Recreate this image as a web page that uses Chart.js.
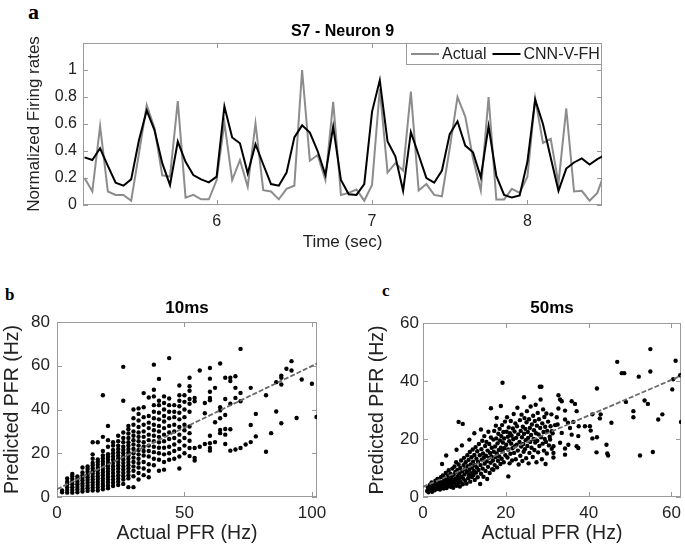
<!DOCTYPE html>
<html>
<head>
<meta charset="utf-8">
<title>Firing rate prediction</title>
<script src="https://cdn.jsdelivr.net/npm/chart.js@4.4.1/dist/chart.umd.min.js"></script>
<style>
  html, body { margin: 0; padding: 0; background: #fff; }
  body { width: 685px; height: 551px; position: relative; overflow: hidden; }
  canvas { position: absolute; }
  .tag { position: absolute; font-family: "Liberation Serif", "Times New Roman", serif; font-weight: bold; line-height: 1; color: #000; }
</style>
</head>
<body>
<div class="tag" style="left:28px; top:1px; font-size:22px;">a</div>
<div class="tag" style="left:5px; top:286px; font-size:17px;">b</div>
<div class="tag" style="left:382px; top:282px; font-size:17px;">c</div>
<canvas id="chart-a" width="640" height="260" style="left:0; top:0;"></canvas>
<canvas id="chart-b" width="330" height="271" style="left:0; top:280px;"></canvas>
<canvas id="chart-c" width="345" height="271" style="left:340px; top:280px;"></canvas>
<script>
const SANS  = '"Liberation Sans", Arial, Helvetica, sans-serif';
const INK   = '#222';
const FRAME = '#9a9a9a';

// ── Panel a: S7 - Neuron 9 time course ─────────────────────────
const times = [5.15, 5.2, 5.25, 5.3, 5.35, 5.4, 5.45, 5.5, 5.55, 5.6, 5.65, 5.7, 5.75, 5.8, 5.85, 5.9, 5.95,
  6, 6.05, 6.1, 6.15, 6.2, 6.25, 6.3, 6.35, 6.4, 6.45, 6.5, 6.55, 6.6, 6.65, 6.7, 6.75, 6.8, 6.85, 6.9, 6.95,
  7, 7.05, 7.1, 7.15, 7.2, 7.25, 7.3, 7.35, 7.4, 7.45, 7.5, 7.55, 7.6, 7.65, 7.7, 7.75, 7.8, 7.85, 7.9, 7.95,
  8, 8.05, 8.1, 8.15, 8.2, 8.25, 8.3, 8.35, 8.4, 8.45, 8.5];
const actualRate = [0.2, 0.1, 0.585, 0.1, 0.075, 0.075, 0.032, 0.38, 0.74, 0.57, 0.22, 0.21, 0.77, 0.055, 0.075, 0.042, 0.042,
  0.185, 0.61, 0.185, 0.333, 0.135, 0.605, 0.11, 0.1, 0.042, 0.12, 0.143, 1.0, 0.328, 0.37, 0.185, 0.765, 0.075, 0.09, 0.115, 0.032,
  0.148, 0.86, 0.24, 0.31, 0.255, 0.84, 0.107, 0.155, 0.075, 0.065, 0.42, 0.8, 0.655, 0.345, 0.107, 0.8, 0.04, 0.04, 0.12, 0.09,
  0.21, 0.79, 0.46, 0.49, 0.16, 0.715, 0.1, 0.105, 0.032, 0.09, 0.25];
const cnnRate = [0.353, 0.333, 0.42, 0.29, 0.165, 0.143, 0.19, 0.48, 0.7, 0.555, 0.31, 0.148, 0.47, 0.32, 0.222, 0.19, 0.168,
  0.21, 0.73, 0.5, 0.457, 0.235, 0.45, 0.3, 0.155, 0.143, 0.24, 0.5, 0.59, 0.536, 0.4, 0.222, 0.58, 0.185, 0.08, 0.075, 0.155,
  0.69, 0.925, 0.47, 0.36, 0.105, 0.54, 0.37, 0.2, 0.165, 0.255, 0.525, 0.62, 0.44, 0.39, 0.205, 0.585, 0.215, 0.075, 0.055, 0.07,
  0.32, 0.78, 0.6, 0.35, 0.105, 0.27, 0.315, 0.345, 0.3, 0.34, 0.37];
const timeTicks = [6, 7, 8];
const rateTicks = [0, 0.2, 0.4, 0.6, 0.8, 1];

// ── Panel b: 10 ms bins (actual PFR comes in 2 Hz steps) ───────
const pfr10Actual = [2, 4, 6, 8, 10, 12, 14, 16, 18, 20, 22, 24, 26, 28, 30, 32, 34, 36, 38, 40, 42, 44, 46, 48, 50,
  52, 54, 56, 58, 60, 62, 64, 66, 68, 70, 72, 74, 76, 78, 82, 84, 86, 88, 90, 92, 94, 96, 100, 101.8];
const pfr10Predicted = [
  [2.2, 3.0],
  [2.0, 3.2, 4.5, 5.8, 7.0, 8.5],
  [2.0, 3.2, 4.5, 5.8, 7.0, 8.2, 9.5, 10.5],
  [2.2, 3.4, 4.6, 5.8, 7.0, 8.2, 9.4],
  [2.5, 3.7, 5.0, 6.2, 7.5, 8.7, 10.0, 11.2, 13.5],
  [2.8, 4.0, 5.2, 6.5, 7.8, 9.0, 10.2, 11.5, 12.8, 14.0],
  [3.0, 4.2, 5.5, 6.8, 8.0, 9.3, 10.6, 11.8, 13.0, 14.4, 15.6, 17.5, 19.5, 25.0],
  [3.0, 4.3, 5.6, 6.9, 8.2, 9.5, 10.8, 12.1, 13.4, 14.7, 16.0, 17.2, 25.0],
  [3.5, 4.8, 6.0, 7.3, 8.6, 9.9, 11.2, 12.5, 13.8, 15.1, 16.4, 17.7, 19.0, 21.0, 27.5, 46.5],
  [4.0, 5.3, 6.6, 7.9, 9.2, 10.5, 11.8, 13.1, 14.4, 15.7, 17.0, 18.3, 19.6, 23.0, 26.0, 32.5],
  [5.0, 6.5, 8.0, 9.5, 11.0, 12.5, 14.0, 15.5, 17.0, 18.5, 20.0, 21.5, 23.5, 25.0],
  [5.5, 7.0, 8.5, 10.0, 11.5, 13.0, 14.5, 16.0, 17.5, 19.0, 20.5, 22.0, 23.5, 25.5, 28.0],
  [6.0, 8.0, 9.5, 11.0, 12.5, 14.0, 15.5, 17.0, 18.5, 20.0, 21.5, 23.0, 25.0, 27.0, 29.5, 44.0, 59.5],
  [4.5, 8.5, 10.0, 11.5, 13.0, 14.5, 16.0, 17.5, 19.0, 20.5, 22.0, 23.5, 25.0, 27.0, 29.0, 31.0, 32.5],
  [4.5, 9.5, 12.0, 14.0, 16.0, 18.0, 20.0, 22.0, 24.0, 26.0, 28.0, 30.0, 33.0, 36.0, 40.0],
  [8.0, 11.0, 13.5, 15.5, 17.5, 19.5, 21.5, 23.5, 25.5, 27.5, 29.5, 32.0, 35.0, 38.0, 40.5],
  [10.0, 13.0, 16.0, 19.0, 21.0, 23.0, 25.0, 27.5, 30.0, 33.0, 36.5, 41.0, 47.5],
  [9.0, 12.0, 15.0, 18.5, 21.0, 23.5, 26.0, 28.5, 31.5, 34.0, 37.0, 45.5],
  [14.5, 17.5, 20.5, 23.0, 25.5, 28.0, 30.5, 33.0, 36.0, 39.0, 42.0, 46.0, 49.0, 60.5],
  [12.0, 17.0, 20.0, 22.5, 25.0, 27.5, 30.0, 32.5, 35.5, 38.5, 42.0, 44.0, 54.0],
  [12.5, 16.0, 19.5, 22.5, 25.5, 28.5, 31.5, 34.5, 37.0, 40.0, 43.0, 46.0],
  [17.0, 20.0, 23.0, 26.5, 29.5, 32.5, 36.0, 39.0, 42.0, 45.0, 63.5],
  [17.5, 21.0, 24.0, 27.0, 30.0, 33.0, 36.5, 39.0, 42.0],
  [13.0, 18.5, 22.0, 25.5, 28.5, 32.0, 35.5, 38.5, 41.5, 44.0, 46.5, 51.0],
  [20.0, 23.5, 27.0, 30.5, 33.0, 36.5, 40.0, 43.5, 46.5],
  [18.7, 22.4, 25.7, 29.2, 32.2, 39.0, 42.6, 44.8, 48.6, 50.6, 54.5],
  [16.7, 17.9, 22.4, 43.8, 45.3],
  [23.0, 57.8],
  [24.2, 38.3, 43.0],
  [21.2, 22.4, 24.6, 28.0, 44.2, 45.3, 48.1, 54.1, 59.0],
  [25.1, 34.2, 49.9],
  [29.2, 30.6, 36.0, 39.6, 41.0, 61.0],
  [24.2, 28.5, 31.1, 37.5, 44.8, 54.5],
  [21.2, 31.0, 42.6, 53.0, 54.5],
  [21.7, 45.3, 49.9, 55.2],
  [22.4, 43.8, 47.6, 67.7],
  [24.0],
  [25.1, 32.9, 49.9],
  [27.7, 38.0],
  [20.7, 46.5],
  [29.2],
  [39.1, 52.5],
  [33.7, 51.4, 54.5, 55.5],
  [58.6],
  [57.8, 62.1],
  [36.1],
  [53.7],
  [51.8],
  [36.6],
];
const fit10 = [[0, 3.6], [102, 61.0]];
const pfr10Ticks = [0, 50, 100];
const pred10Ticks = [0, 20, 40, 60, 80];

// ── Panel c: 50 ms bins [actual, predicted] ────────────────────
const pfr50 = [
  [1.0, 2.1], [1.2, 3.4], [1.3, 1.6], [1.5, 2.8], [1.7, 4.2], [1.8, 2.2], [2.0, 3.1], [2.1, 5.0], [2.2, 1.8], [2.4, 2.6],
  [2.5, 3.8], [2.6, 4.6], [2.8, 2.3], [2.9, 3.3], [3.0, 5.6], [3.1, 4.1], [3.2, 2.7], [3.4, 3.6], [3.5, 6.2], [3.6, 4.8],
  [3.7, 2.9], [3.9, 3.9], [4.0, 5.3], [4.1, 2.6], [4.2, 4.4], [4.3, 6.8], [4.4, 3.3], [4.6, 5.0], [4.6, 11.4], [4.7, 3.9],
  [4.8, 7.4], [4.9, 4.6], [5.0, 2.9], [5.1, 5.8], [5.2, 3.6], [5.3, 6.6], [5.4, 4.2], [5.5, 8.3], [5.6, 14.3], [5.6, 5.2],
  [5.7, 3.1], [5.8, 6.0], [5.9, 4.7], [6.0, 7.2], [6.1, 3.8], [6.2, 9.2], [6.3, 5.6], [6.4, 4.3], [6.5, 6.5], [6.6, 8.0],
  [6.7, 3.5], [6.8, 5.0], [6.9, 7.0], [7.0, 4.2], [7.1, 9.8], [7.2, 6.0], [7.3, 3.2], [7.4, 7.7], [7.5, 5.3], [7.6, 10.5],
  [7.7, 4.6], [7.8, 8.6], [7.9, 6.4], [8.0, 12.0], [8.1, 16.3], [8.1, 3.9], [8.2, 5.7], [8.3, 9.3], [8.4, 7.2], [8.5, 4.8],
  [8.6, 25.9], [8.6, 11.2], [8.7, 6.1], [8.8, 8.1], [8.9, 3.6], [9.0, 10.0], [9.1, 5.2], [9.2, 12.6], [9.3, 7.0], [9.4, 17.8],
  [9.5, 8.9], [9.6, 25.2], [9.6, 4.4], [9.7, 6.4], [9.8, 11.0], [9.9, 13.5], [10.0, 7.8], [10.1, 9.6], [10.2, 5.6], [10.3, 12.0],
  [10.5, 4.6], [10.6, 8.6], [10.7, 14.4], [10.8, 10.6], [10.9, 6.5], [11.0, 12.8], [11.1, 7.5], [11.2, 19.8], [11.2, 9.4], [11.3, 15.5],
  [11.4, 5.3], [11.5, 11.2], [11.6, 8.2], [11.7, 13.7], [11.8, 6.9], [11.9, 10.1], [12.0, 16.4], [12.1, 12.2], [12.2, 7.6], [12.3, 9.0],
  [12.4, 22.0], [12.4, 14.5], [12.5, 5.9], [12.6, 11.0], [12.7, 17.2], [12.8, 8.4], [12.9, 13.2], [13.0, 10.2], [13.1, 15.8], [13.2, 6.8],
  [13.3, 12.1], [13.4, 9.3], [13.5, 18.3], [13.7, 14.4], [13.8, 4.5], [13.9, 11.0], [14.0, 23.3], [14.0, 8.0], [14.1, 16.5], [14.2, 12.9],
  [14.3, 19.4], [14.4, 9.8], [14.5, 15.0], [14.6, 7.0], [14.7, 13.6], [14.8, 21.0], [14.9, 11.5], [15.0, 17.6], [15.1, 9.0], [15.2, 14.2],
  [15.3, 19.0], [15.4, 12.3], [15.5, 6.2], [15.6, 16.0], [15.7, 10.4], [15.8, 22.5], [15.9, 13.5], [16.0, 18.3], [16.1, 8.3], [16.2, 15.2],
  [16.3, 11.8], [16.4, 30.6], [16.4, 20.5], [16.5, 14.0], [16.6, 17.0], [16.7, 9.6], [16.9, 12.6], [17.0, 9.4], [17.0, 19.8], [17.1, 15.6],
  [17.2, 22.8], [17.3, 11.0], [17.4, 17.4], [17.5, 13.8], [17.6, 24.6], [17.7, 20.2], [17.8, 27.3], [17.8, 15.0], [17.9, 10.2], [18.0, 18.5],
  [18.1, 12.5], [18.2, 21.8], [18.3, 16.2], [18.4, 14.0], [18.5, 23.5], [18.6, 19.5], [18.7, 11.4], [18.8, 31.4], [18.8, 17.0], [18.9, 21.0],
  [19.0, 13.2], [19.1, 24.8], [19.2, 39.4], [19.2, 15.8], [19.3, 18.8], [19.4, 22.4], [19.5, 12.0], [19.6, 20.2], [19.7, 16.9], [19.8, 26.0],
  [19.9, 14.4], [20.1, 18.0], [20.2, 22.5], [20.3, 27.5], [20.4, 13.6], [20.5, 20.8], [20.6, 7.1], [20.6, 16.4], [20.7, 24.0], [20.8, 19.2],
  [20.9, 11.6], [21.0, 22.0], [21.1, 14.9], [21.2, 26.2], [21.3, 18.4], [21.4, 21.1], [21.5, 12.6], [21.6, 16.8], [21.7, 23.6], [21.8, 19.9],
  [21.9, 28.6], [22.0, 15.2], [22.1, 22.6], [22.2, 17.5], [22.3, 25.4], [22.4, 13.0], [22.5, 20.4], [22.6, 18.0], [22.7, 24.4], [22.8, 30.8],
  [22.9, 16.0], [23.0, 21.6], [23.1, 11.2], [23.3, 19.0], [23.4, 26.5], [23.5, 14.2], [23.6, 22.8], [23.7, 17.4], [23.8, 28.4], [23.9, 20.6],
  [24.0, 12.4], [24.1, 24.2], [24.2, 18.3], [24.3, 15.6], [24.4, 34.4], [24.4, 21.8], [24.5, 27.2], [24.6, 16.5], [24.7, 23.5], [24.8, 19.6],
  [24.9, 13.4], [25.0, 25.8], [25.1, 29.6], [25.2, 17.6], [25.3, 22.4], [25.4, 20.4], [25.5, 11.6], [25.6, 26.8], [25.7, 15.2], [25.8, 23.8],
  [25.9, 19.0], [26.0, 31.2], [26.1, 21.4], [26.2, 17.0], [26.3, 25.0], [26.5, 13.8], [26.6, 28.0], [26.7, 20.0], [26.8, 23.0], [26.9, 16.2],
  [27.0, 26.2], [27.1, 18.8], [27.2, 31.8], [27.3, 22.0], [27.4, 12.0], [27.5, 24.6], [27.6, 19.4], [27.7, 29.0], [27.8, 15.4], [27.9, 21.6],
  [28.0, 26.8], [28.1, 17.6], [28.2, 38.0], [28.3, 23.8], [28.4, 33.6], [28.5, 20.6], [28.6, 38.0], [28.7, 13.0], [28.8, 25.4], [28.9, 18.4],
  [29.0, 30.2], [29.1, 22.4], [29.2, 16.0], [29.3, 27.6], [29.4, 20.0], [29.5, 24.2], [29.6, 11.4], [29.7, 19.0], [29.8, 28.8], [29.9, 15.0],
  [30.0, 22.8], [30.2, 26.0], [30.4, 17.8], [30.6, 20.8], [30.7, 19.8], [30.8, 24.4], [31.0, 28.5], [31.1, 16.6], [31.1, 22.7], [31.3, 22.0],
  [31.5, 13.6], [31.5, 17.5], [31.5, 15.2], [31.9, 24.8], [32.3, 27.5], [32.5, 25.0], [32.7, 35.1], [32.7, 30.5], [33.1, 33.6], [33.1, 18.7],
  [33.5, 33.0], [33.5, 22.1], [34.3, 29.8], [34.3, 26.7], [34.3, 16.7], [34.3, 14.6], [35.0, 25.6], [35.1, 18.0], [35.5, 23.8], [35.9, 33.0],
  [35.9, 21.5], [36.3, 25.9], [36.7, 32.1], [37.1, 29.6], [37.1, 17.5], [37.5, 21.0], [37.5, 16.9], [37.6, 24.4], [39.1, 24.4], [40.3, 24.4],
  [40.5, 22.9], [40.9, 20.2], [40.9, 28.5], [41.9, 15.4], [42.0, 20.6], [42.0, 37.4], [42.7, 27.1], [42.9, 28.5], [44.3, 18.0], [44.5, 15.0],
  [44.7, 14.3], [45.5, 25.6], [46.9, 46.6], [48.0, 42.7], [48.6, 42.7], [49.0, 32.8], [50.8, 29.6], [50.8, 27.5], [52.1, 41.5], [52.4, 14.3],
  [53.5, 33.3], [54.3, 32.1], [54.9, 51.0], [54.9, 43.3], [55.5, 15.5], [56.8, 26.7], [57.8, 28.5], [60.2, 37.1], [60.4, 40.6], [61.0, 47.0],
  [62.1, 42.0], [62.3, 25.9],
];
const fit50 = [[0, 3.5], [62.3, 41.8]];
const pfr50Ticks = [0, 20, 40, 60];
const pred50Ticks = [0, 20, 40, 60];

// ── Helpers ────────────────────────────────────────────────────
const fixedTicks = values => scale => { scale.ticks = values.map(value => ({ value })); };
const plainLabel = v => String(v);   // MATLAB prints 1, not 1.0

// pin the axis box so the plot area lands where the figure has it
const pinSize = (prop, px) => scale => {
  scale[prop] = px;
  scale.paddingLeft = scale.paddingRight = scale.paddingTop = scale.paddingBottom = 0;
};

// MATLAB style box: frame, inward ticks on all four sides, title over the axes
const matlabBox = {
  id: 'matlabBox',
  beforeDatasetsDraw(chart, args, opts) {
    const { ctx, chartArea: a, scales: { x, y } } = chart;
    ctx.save();
    ctx.strokeStyle = FRAME;
    ctx.lineWidth = 1;
    ctx.beginPath();
    for (const t of x.ticks) {
      const px = Math.round(x.getPixelForValue(t.value)) + 0.5;
      ctx.moveTo(px, a.bottom); ctx.lineTo(px, a.bottom - 5);
      ctx.moveTo(px, a.top);    ctx.lineTo(px, a.top + 5);
    }
    for (const t of y.ticks) {
      const py = Math.round(y.getPixelForValue(t.value)) + 0.5;
      ctx.moveTo(a.left, py);  ctx.lineTo(a.left + 5, py);
      ctx.moveTo(a.right, py); ctx.lineTo(a.right - 5, py);
    }
    ctx.stroke();
    ctx.strokeRect(Math.round(a.left) + 0.5, Math.round(a.top) + 0.5, Math.round(a.width) - 1, Math.round(a.height) - 1);

    ctx.font = `bold ${opts.size}px ${SANS}`;
    ctx.fillStyle = '#000';
    ctx.textAlign = 'center';
    ctx.textBaseline = 'middle';
    ctx.fillText(opts.title, (a.left + a.right) / 2, opts.titleY);
    ctx.restore();
  },
};

// boxed legend tucked into the top right corner of the axes
const insetLegend = {
  id: 'insetLegend',
  afterDatasetsDraw(chart) {
    const { ctx, chartArea: a } = chart;
    const sets = chart.data.datasets;
    const lineLen = 28, pad = 5, gap = 3, between = 6, h = 22;
    ctx.save();
    ctx.font = `16px ${SANS}`;
    const widths = sets.map(d => ctx.measureText(d.label).width);
    const w = Math.round(pad + widths.reduce((s, tw) => s + lineLen + gap + tw, 0) + between * (sets.length - 1) + 2);
    const left = Math.round(a.right) - w;
    const top = Math.round(a.top);
    ctx.fillStyle = '#fff';
    ctx.fillRect(left, top, w, h);
    ctx.strokeStyle = FRAME;
    ctx.lineWidth = 1;
    ctx.strokeRect(left + 0.5, top + 0.5, w - 1, h - 1);

    let cx = left + pad;
    const cy = top + h / 2;
    sets.forEach((d, i) => {
      ctx.strokeStyle = d.borderColor;
      ctx.lineWidth = d.borderWidth;
      ctx.beginPath();
      ctx.moveTo(cx, cy);
      ctx.lineTo(cx + lineLen, cy);
      ctx.stroke();
      cx += lineLen + gap;
      ctx.fillStyle = INK;
      ctx.textAlign = 'left';
      ctx.textBaseline = 'middle';
      ctx.fillText(d.label, cx, cy + 1);
      cx += widths[i] + between;
    });
    ctx.restore();
  },
};

const noGrid = { display: false, drawTicks: false };

// ── Panel a ────────────────────────────────────────────────────
new Chart(document.getElementById('chart-a'), {
  type: 'line',
  data: {
    datasets: [
      {
        label: 'Actual',
        data: times.map((t, i) => ({ x: t, y: actualRate[i] })),
        borderColor: '#8c8c8c',
        borderWidth: 2,
        pointRadius: 0,
        order: 2,
        clip: 0,
      },
      {
        label: 'CNN-V-FH',
        data: times.map((t, i) => ({ x: t, y: cnnRate[i] })),
        borderColor: '#000',
        borderWidth: 2,
        pointRadius: 0,
        order: 1,
        clip: 0,
      },
    ],
  },
  options: {
    animation: false,
    responsive: false,
    devicePixelRatio: 1,
    layout: { padding: { top: 43, right: 38, bottom: 0, left: 0 } },
    plugins: {
      legend: { display: false },
      tooltip: { enabled: false },
      matlabBox: { title: 'S7 - Neuron 9', titleY: 32, size: 16 },
    },
    scales: {
      x: {
        type: 'linear',
        min: 5.14,
        max: 8.48,
        afterBuildTicks: fixedTicks(timeTicks),
        afterFit: pinSize('height', 55),
        grid: noGrid,
        border: { display: false },
        ticks: { font: { family: SANS, size: 16 }, color: INK, padding: 7, callback: plainLabel },
        title: { display: true, text: 'Time (sec)', color: INK, font: { family: SANS, size: 17 }, padding: { top: 0, bottom: 7 } },
      },
      y: {
        min: 0,
        max: 1.2,
        afterBuildTicks: fixedTicks(rateTicks),
        afterFit: pinSize('width', 83),
        grid: noGrid,
        border: { display: false },
        ticks: { font: { family: SANS, size: 16 }, color: INK, padding: 6, callback: plainLabel },
        title: { display: true, text: 'Normalized Firing rates', color: INK, font: { family: SANS, size: 17 }, padding: { top: 24, bottom: 0 } },
      },
    },
  },
  plugins: [matlabBox, insetLegend],
});

// ── Panels b and c ─────────────────────────────────────────────
function scatterPanel(id, points, fit, opts) {
  return new Chart(document.getElementById(id), {
    type: 'scatter',
    data: {
      datasets: [
        {
          label: 'fit',
          type: 'line',
          data: fit.map(([x, y]) => ({ x, y })),
          borderColor: '#6a6a6a',
          borderWidth: 1.8,
          borderDash: [5, 2],
          pointRadius: 0,
          order: 0,
        },
        {
          label: 'PFR',
          data: points.map(([x, y]) => ({ x, y })),
          backgroundColor: '#000',
          borderWidth: 0,
          pointRadius: 2.2,
          order: 1,
        },
      ],
    },
    options: {
      animation: false,
      responsive: false,
      devicePixelRatio: 1,
      layout: { padding: { top: opts.top, right: opts.right, bottom: 0, left: 0 } },
      plugins: {
        legend: { display: false },
        tooltip: { enabled: false },
        matlabBox: { title: opts.title, titleY: 28, size: 17 },
      },
      scales: {
        x: {
          type: 'linear',
          min: 0,
          max: opts.xMax,
          afterBuildTicks: fixedTicks(opts.xTicks),
          afterFit: pinSize('height', 54),
          grid: noGrid,
          border: { display: false },
          ticks: { font: { family: SANS, size: 17 }, color: INK, padding: 6, callback: plainLabel },
          title: { display: true, text: 'Actual PFR (Hz)', color: INK, font: { family: SANS, size: 19.5 }, padding: { top: 0, bottom: 6 } },
        },
        y: {
          min: 0,
          max: opts.yMax,
          afterBuildTicks: fixedTicks(opts.yTicks),
          afterFit: pinSize('width', opts.axisWidth),
          grid: noGrid,
          border: { display: false },
          ticks: { font: { family: SANS, size: 17 }, color: INK, padding: opts.tickPad, callback: plainLabel },
          title: { display: true, text: 'Predicted PFR (Hz)', color: INK, font: { family: SANS, size: 19.5 }, padding: { top: opts.titlePad, bottom: 0 } },
        },
      },
    },
    plugins: [matlabBox],
  });
}

const pfr10 = pfr10Actual.flatMap((x, i) => pfr10Predicted[i].map(y => [x, y]));

scatterPanel('chart-b', pfr10, fit10, {
  title: '10ms', xMax: 102, yMax: 80, xTicks: pfr10Ticks, yTicks: pred10Ticks,
  top: 42, right: 13, axisWidth: 57, tickPad: 7, titlePad: 1,
});

scatterPanel('chart-c', pfr50, fit50, {
  title: '50ms', xMax: 62.3, yMax: 60, xTicks: pfr50Ticks, yTicks: pred50Ticks,
  top: 43, right: 2, axisWidth: 83, tickPad: 4, titlePad: 26,
});
</script>
</body>
</html>
